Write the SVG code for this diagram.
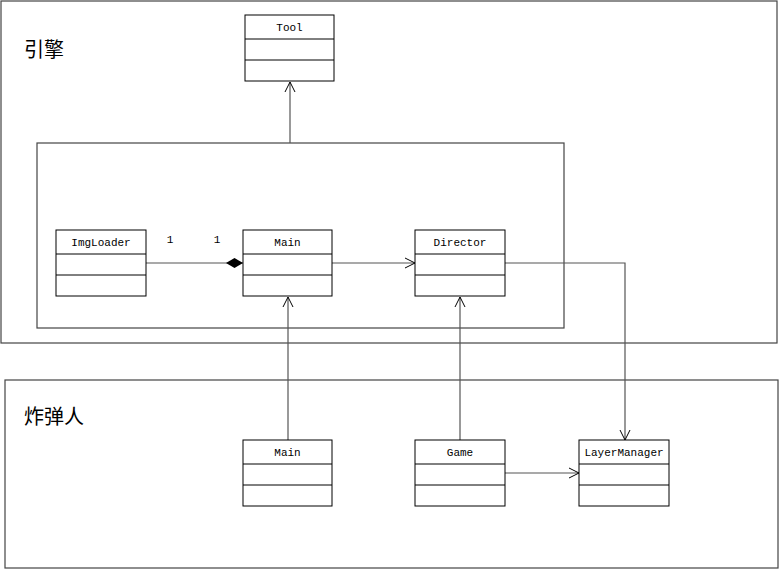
<svg xmlns="http://www.w3.org/2000/svg" width="780" height="569" viewBox="0 0 780 569">
<defs>
<style>
.pkg{fill:#fff;stroke:#444;stroke-width:1.2}
.cls rect{fill:#fff;stroke:#000;stroke-width:1}
.cls line{stroke:#000;stroke-width:1}
.lbl{font-family:"Liberation Mono","DejaVu Sans Mono",monospace;font-size:11px;fill:#000;text-anchor:middle}
.title{font-family:"Noto Sans CJK SC","Noto Sans CJK JP",sans-serif;font-size:20px;fill:#000}
.conn{stroke:#555;stroke-width:1.2;fill:none}
</style>
<marker id="open" markerWidth="12" markerHeight="12" refX="10" refY="5" orient="auto" markerUnits="userSpaceOnUse" viewBox="0 0 12 10">
<path d="M0,0 L10,5 L0,10" fill="none" stroke="#000" stroke-width="1"/>
</marker>
<marker id="diamond" markerWidth="18" markerHeight="10" refX="17" refY="5" orient="auto" markerUnits="userSpaceOnUse" viewBox="0 0 18 10">
<path d="M0,5 L8.5,0 L17,5 L8.5,10 Z" fill="#000"/>
</marker>
</defs>
<g id="engine-pkg">
<rect class="pkg" x="1" y="1" width="776" height="342"/>
<text class="title" x="24" y="57">引擎</text>
</g>
<g id="bomber-pkg">
<rect class="pkg" x="5" y="380" width="773" height="188"/>
<text class="title" x="24" y="424">炸弹人</text>
</g>
<g id="inner-pkg">
<rect class="pkg" x="37" y="143" width="527" height="185"/>
</g>
<g id="connectors">
<line class="conn" x1="290" y1="143" x2="290" y2="82" marker-end="url(#open)"/>
<line class="conn" x1="146" y1="263" x2="243" y2="263" marker-end="url(#diamond)"/>
<line class="conn" x1="332" y1="263" x2="415" y2="263" marker-end="url(#open)"/>
<polyline class="conn" points="505,263 625,263 625,440" marker-end="url(#open)"/>
<line class="conn" x1="288" y1="440" x2="288" y2="297" marker-end="url(#open)"/>
<line class="conn" x1="460" y1="440" x2="460" y2="297" marker-end="url(#open)"/>
<line class="conn" x1="505" y1="473" x2="579" y2="473" marker-end="url(#open)"/>
<text class="lbl" x="170" y="243">1</text>
<text class="lbl" x="217" y="243">1</text>
</g>
<g id="Tool" class="cls">
<rect x="245" y="15" width="89" height="66"/>
<line x1="245" y1="39" x2="334" y2="39"/><line x1="245" y1="60" x2="334" y2="60"/>
<text class="lbl" x="289.5" y="31">Tool</text>
</g>
<g id="ImgLoader" class="cls">
<rect x="56" y="230" width="90" height="66"/>
<line x1="56" y1="254" x2="146" y2="254"/><line x1="56" y1="275" x2="146" y2="275"/>
<text class="lbl" x="101" y="246">ImgLoader</text>
</g>
<g id="Main-engine" class="cls">
<rect x="243" y="230" width="89" height="66"/>
<line x1="243" y1="254" x2="332" y2="254"/><line x1="243" y1="275" x2="332" y2="275"/>
<text class="lbl" x="287.5" y="246">Main</text>
</g>
<g id="Director" class="cls">
<rect x="415" y="230" width="90" height="66"/>
<line x1="415" y1="254" x2="505" y2="254"/><line x1="415" y1="275" x2="505" y2="275"/>
<text class="lbl" x="460" y="246">Director</text>
</g>
<g id="Main-bomber" class="cls">
<rect x="243" y="440" width="89" height="66"/>
<line x1="243" y1="464" x2="332" y2="464"/><line x1="243" y1="485" x2="332" y2="485"/>
<text class="lbl" x="287.5" y="456">Main</text>
</g>
<g id="Game" class="cls">
<rect x="415" y="440" width="90" height="66"/>
<line x1="415" y1="464" x2="505" y2="464"/><line x1="415" y1="485" x2="505" y2="485"/>
<text class="lbl" x="460" y="456">Game</text>
</g>
<g id="LayerManager" class="cls">
<rect x="579" y="440" width="90" height="66"/>
<line x1="579" y1="464" x2="669" y2="464"/><line x1="579" y1="485" x2="669" y2="485"/>
<text class="lbl" x="624" y="456">LayerManager</text>
</g>
</svg>
